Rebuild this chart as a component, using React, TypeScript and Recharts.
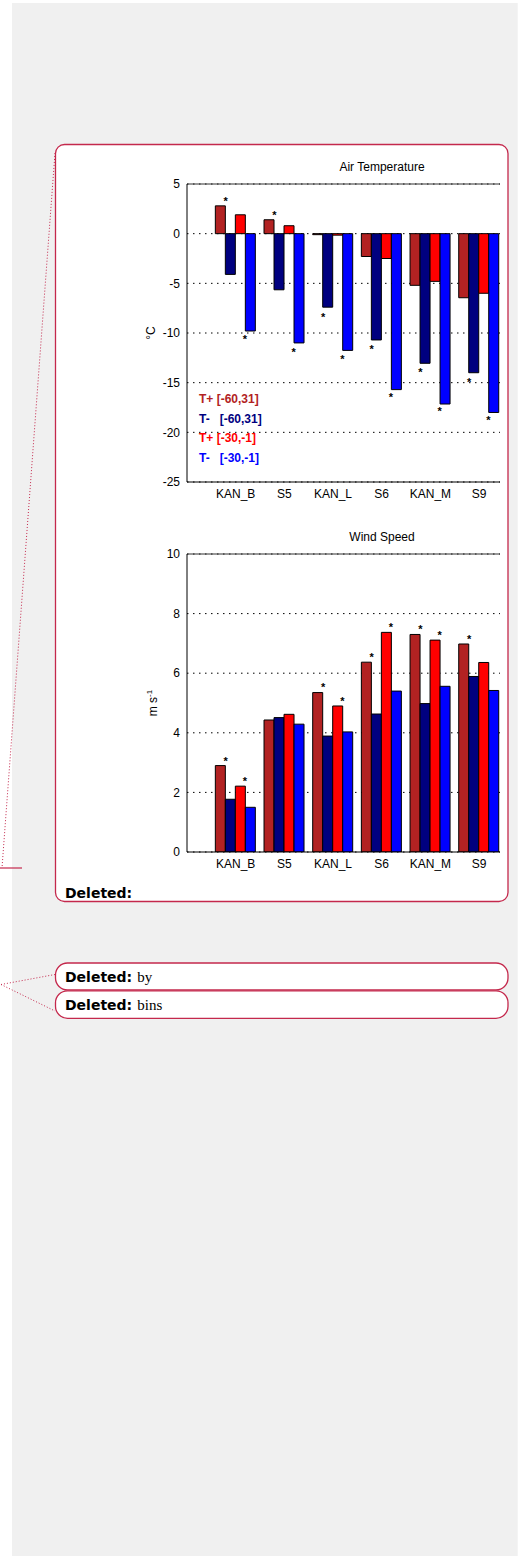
import React from 'react';
import { ComposedChart, Bar, Scatter, XAxis, YAxis, CartesianGrid, ReferenceLine, Legend } from 'recharts';

const stations = ['KAN_B', 'S5', 'KAN_L', 'S6', 'KAN_M', 'S9'];

// Air temperature (°C)
const tempWarmLong = [2.8, 1.4, -0.1, -2.3, -5.2, -6.45];
const tempColdLong = [-4.1, -5.65, -7.4, -10.7, -13.05, -14.0];
const tempWarmShort = [1.9, 0.8, -0.15, -2.5, -4.8, -6.0];
const tempColdShort = [-9.8, -11.0, -11.75, -15.7, -17.15, -18.0];
// where the significance asterisks sit (first pair / second pair)
const tempStarA = [3.5, 2.1, -8.1, -11.35, -13.7, -14.7];
const tempStarB = [-10.35, -11.65, -12.35, -16.2, -17.6, -18.5];

// Wind speed (m s-1)
const windWarmLong = [2.9, 4.43, 5.35, 6.37, 7.3, 6.98];
const windColdLong = [1.77, 4.51, 3.89, 4.63, 4.98, 5.89];
const windWarmShort = [2.21, 4.62, 4.9, 7.37, 7.11, 6.36];
const windColdShort = [1.5, 4.29, 4.03, 5.4, 5.56, 5.42];
const windStarA = [3.13, null, 5.62, 6.62, 7.57, 7.23];
const windStarB = [2.46, null, 5.15, 7.63, 7.36, null];

const tempTicks = [-25, -20, -15, -10, -5, 0, 5];
const windTicks = [0, 2, 4, 6, 8, 10];
const stationTicks = [1, 2, 3, 4, 5, 6];

const series = [
  { key: 'warmLong', name: 'T+ [-60,31]', color: '#b22222' },
  { key: 'coldLong', name: 'T-   [-60,31]', color: '#00007f' },
  { key: 'warmShort', name: 'T+ [-30,-1]', color: '#ff0000' },
  { key: 'coldShort', name: 'T-   [-30,-1]', color: '#0000ff' },
];

const FONT = '"Liberation Sans", Arial, sans-serif';
const CRIMSON = '#c4284c';
const X_DOMAIN: [number, number] = [0, 6.43];

const buildRows = (a: number[], b: number[], c: number[], d: number[]) =>
  stations.map((name, i) => ({ x: i + 1, name, warmLong: a[i], coldLong: b[i], warmShort: c[i], coldShort: d[i] }));

const buildStars = (first: (number | null)[], second: (number | null)[]) => [
  ...first.map((y, i) => ({ x: i + 1 - 0.205, y })).filter(p => p.y !== null),
  ...second.map((y, i) => ({ x: i + 1 + 0.19, y })).filter(p => p.y !== null),
];

const tempRows = buildRows(tempWarmLong, tempColdLong, tempWarmShort, tempColdShort);
const windRows = buildRows(windWarmLong, windColdLong, windWarmShort, windColdShort);
const tempStars = buildStars(tempStarA, tempStarB);
const windStars = buildStars(windStarA, windStarB);

const StarShape = (props: any) => {
  const { cx, cy } = props;
  if (cx == null || cy == null) return null;
  return (
    <text x={cx} y={cy + 6.5} textAnchor="middle" fontSize={11} fontWeight="bold" fontFamily={FONT} fill="#000">*</text>
  );
};

const UnitLabel = (props: any) => {
  const { viewBox, unit } = props;
  const cx = viewBox.x + (unit === 'wind' ? 27 : 25);
  const cy = viewBox.y + viewBox.height / 2;
  return (
    <text x={cx} y={cy} transform={`rotate(-90 ${cx} ${cy})`} textAnchor="middle" fontSize={12} fontFamily={FONT} fill="#000">
      {unit === 'wind' ? (
        <>
          <tspan>m s</tspan>
          <tspan dy={-5} fontSize={8}>-1</tspan>
        </>
      ) : (
        '°C'
      )}
    </text>
  );
};

// keep the series order (the default legend sorts its items)
const LegendBox = () => (
  <div style={{ fontFamily: FONT, fontSize: 12, fontWeight: 'bold' }}>
    {series.map(s => (
      <div key={s.key} style={{ color: s.color, whiteSpace: 'pre', lineHeight: '19.5px' }}>{s.name}</div>
    ))}
  </div>
);

interface StationChartProps {
  rows: any[];
  stars: { x: number; y: number | null }[];
  ticks: number[];
  top: number;
  unit: 'temp' | 'wind';
  showLegend?: boolean;
}

const StationChart: React.FC<StationChartProps> = ({ rows, stars, ticks, top, unit, showLegend }) => {
  const domain: [number, number] = [ticks[0], ticks[ticks.length - 1]];
  return (
    <div style={{ position: 'absolute', left: 130, top, width: 370, height: 352 }}>
      <ComposedChart width={370} height={352} data={rows} barGap={0} margin={{ top: 34, right: 0, bottom: 0, left: 0 }}>
        <CartesianGrid vertical={false} stroke="#000" strokeDasharray="1.5 4.5" />
        <XAxis
          dataKey="x"
          type="number"
          domain={X_DOMAIN}
          ticks={stationTicks}
          interval={0}
          allowDataOverflow
          tickFormatter={(v: number) => stations[v - 1]}
          height={20}
          tickLine={false}
          tickMargin={1}
          axisLine={{ stroke: '#000' }}
          tick={{ fill: '#000', fontSize: 12, fontFamily: FONT }}
        />
        <XAxis xAxisId="stars" dataKey="x" type="number" domain={X_DOMAIN} allowDataOverflow hide />
        <YAxis
          type="number"
          domain={domain}
          ticks={ticks}
          interval={0}
          allowDataOverflow
          width={57}
          tickLine={false}
          tickMargin={1}
          axisLine={{ stroke: '#000' }}
          tick={{ fill: '#000', fontSize: 12, fontFamily: FONT }}
          label={<UnitLabel unit={unit} />}
        />
        <ReferenceLine y={domain[1]} stroke="#333" strokeWidth={1} />
        {series.map(s => (
          <Bar
            key={s.key}
            dataKey={s.key}
            name={s.name}
            fill={s.color}
            stroke="#000"
            strokeWidth={1}
            barSize={10}
            isAnimationActive={false}
          />
        ))}
        <Scatter xAxisId="stars" data={stars} dataKey="y" shape={StarShape} legendType="none" isAnimationActive={false} />
        {showLegend && (
          <Legend
            layout="vertical"
            align="center"
            verticalAlign="middle"
            wrapperStyle={{ left: 69, top: 240, width: 120, height: 80 }}
            content={() => <LegendBox />}
          />
        )}
      </ComposedChart>
    </div>
  );
};

const titleStyle = (top: number): React.CSSProperties => ({
  position: 'absolute',
  left: 322,
  top,
  width: 120,
  textAlign: 'center',
  fontFamily: FONT,
  fontSize: 12,
  lineHeight: '14px',
  color: '#000',
});

export default function App() {
  return (
    <div style={{ position: 'absolute', left: 0, top: 0, width: 519, height: 1556, overflow: 'hidden', background: '#fff' }}>
      <svg width={519} height={1556} style={{ position: 'absolute', left: 0, top: 0 }}>
        <rect x={12} y={3} width={505.7} height={1553} fill="#f0f0f0" />
        <line x1={55} y1={153} x2={2} y2={868} stroke={CRIMSON} strokeWidth={1} strokeDasharray="1 2" />
        <line x1={0} y1={868} x2={22} y2={868} stroke={CRIMSON} strokeWidth={1.2} />
        <line x1={1} y1={984.5} x2={55} y2={974.5} stroke={CRIMSON} strokeWidth={1} strokeDasharray="1 2" />
        <line x1={1} y1={984.5} x2={55} y2={1011} stroke={CRIMSON} strokeWidth={1} strokeDasharray="1 2" />
        <rect x={55.5} y={144.5} width={452.5} height={757} rx={9} fill="#fff" stroke={CRIMSON} strokeWidth={1.3} />
        <rect x={55.5} y={963} width={452.5} height={27} rx={12} fill="#fff" stroke={CRIMSON} strokeWidth={1.3} />
        <rect x={55.5} y={990.8} width={452.5} height={27.5} rx={12} fill="#fff" stroke={CRIMSON} strokeWidth={1.3} />
        <text x={65} y={898} fontFamily='"DejaVu Sans", Verdana, sans-serif' fontWeight="bold" fontSize={14} fill="#000">Deleted:</text>
        <text x={65} y={982} fill="#000">
          <tspan fontFamily='"DejaVu Sans", Verdana, sans-serif' fontWeight="bold" fontSize={14}>Deleted:</tspan>
          <tspan dx={5} fontFamily='"Liberation Serif", "Times New Roman", serif' fontSize={15}>by</tspan>
        </text>
        <text x={65} y={1010} fill="#000">
          <tspan fontFamily='"DejaVu Sans", Verdana, sans-serif' fontWeight="bold" fontSize={14}>Deleted:</tspan>
          <tspan dx={5} fontFamily='"Liberation Serif", "Times New Roman", serif' fontSize={15}>bins</tspan>
        </text>
      </svg>
      <div style={titleStyle(160)}>Air Temperature</div>
      <StationChart rows={tempRows} stars={tempStars} ticks={tempTicks} top={150} unit="temp" showLegend />
      <div style={titleStyle(530)}>Wind Speed</div>
      <StationChart rows={windRows} stars={windStars} ticks={windTicks} top={520} unit="wind" />
    </div>
  );
}
